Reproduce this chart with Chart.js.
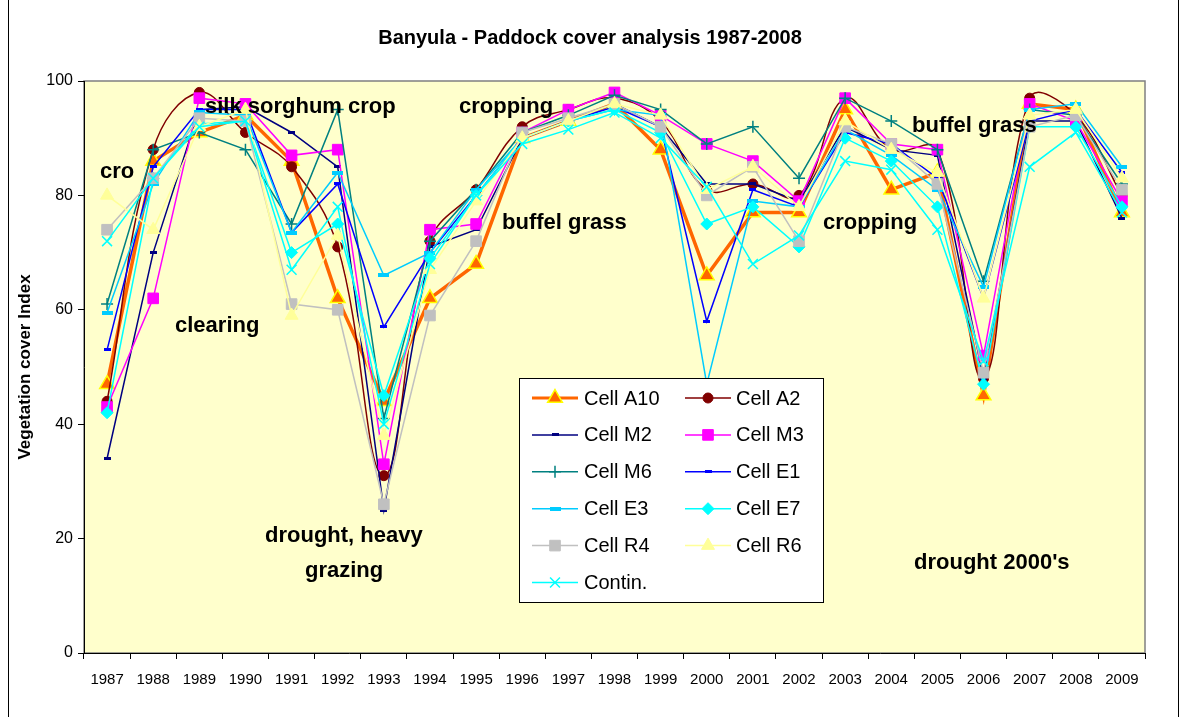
<!DOCTYPE html>
<html><head><meta charset="utf-8">
<script src="https://cdn.jsdelivr.net/npm/chart.js@4.4.0/dist/chart.umd.min.js"></script>
<style>html,body{margin:0;padding:0;background:#fff;}#wrap{position:relative;width:1181px;height:717px;}canvas{display:block;}</style>
</head><body><div id="wrap"><canvas id="c" width="1181" height="717"></canvas></div>
<script>
const years = ['1987','1988','1989','1990','1991','1992','1993','1994','1995','1996','1997','1998','1999','2000','2001','2002','2003','2004','2005','2006','2007','2008','2009'];
const yTicks = [0, 20, 40, 60, 80, 100];
const seriesNames = ['Cell A10','Cell A2','Cell M2','Cell M3','Cell M6','Cell E1','Cell E3','Cell E7','Cell R4','Cell R6','Contin.'];
const cellA10 = [47, 86, 91, 94, 86, 62, 44, 62, 68, 90, 93, 96, 88, 66, 77, 77, 95, 81, 84, 45, 96, 95, 77];
const cellA2  = [44, 88, 98, 91, 85, 71, 31, 72, 81, 92, 95, 97, 93, 81, 82, 80, 97, 88, 88, 48, 97, 94, 80];
const cellM2  = [34, 70, 95, 95.5, 91, 85, 25, 71, 74, 90, 93, 96, 92, 82, 82, 79, 92, 88, 87, 48, 93, 93, 76];
const cellM3  = [43, 62, 97, 96, 87, 88, 33, 74, 75, 91, 95, 98, 94, 89, 86, 79, 97, 89, 88, 52, 96, 93, 79];
const cellM6  = [61, 88, 91, 88, 75, 95, 41, 72, 81, 91, 94, 97.5, 95, 89, 92, 83, 97, 93, 88, 65, 95, 94, 82];
const cellE1  = [53, 85, 95, 95, 73.5, 82, 57, 70, 80, 90, 93, 95.5, 92, 58, 81, 78, 91, 89, 83, 62, 93, 95, 84];
const cellE3  = [59.5, 82, 94.5, 94, 73.5, 84, 66, 70, 81, 90, 93, 95, 94, 47, 79, 78, 91.5, 87, 81, 64, 95, 96, 85];
const cellE7  = [42, 83, 92.5, 93, 70, 75, 45, 69, 80, 90, 93, 95, 91, 75, 78, 71, 90, 86, 78, 47, 92, 92, 78];
const cellR4  = [74, 83, 93.5, 93, 61, 60, 26, 59, 72, 91, 93.5, 96, 92, 80, 85, 72, 92, 89, 82, 49, 92, 94, 81];
const cellR6  = [80, 74, 92, 95, 59, 73, 38, 67, 79, 90, 93, 96, 94, 81, 85, 78, 93, 88, 84, 62, 94, 95, 83];
const contin  = [72, 83, 92, 93, 67, 78, 40, 68, 80, 89, 91.5, 94.5, 90, 81.5, 68, 73, 86, 84.5, 74, 51, 85, 91, 77];
const chartTitle = 'Banyula - Paddock cover analysis 1987-2008';
const yTitle = 'Vegetation cover Index';
const noteTexts = ['silk sorghum crop','cro','clearing','cropping','buffel grass','drought, heavy','grazing','cropping','buffel grass',"drought 2000's"];

// ---- presentation ----
const notePos = [[205,107],[100,172],[175,326],[459,107],[502,223],[265,536],[305,571],[823,223],[912,126],[914,563]];
function dash(color, w, h){const c=document.createElement('canvas');c.width=w;c.height=h;const x=c.getContext('2d');x.fillStyle=color;x.fillRect(0,0,w,h);return c;}
const styles = [
  {color:'#FF6600', width:3.5, ps:'triangle', r:8.5, fill:'#FF6600', stroke:'#FFFF00', bw:1.5},
  {color:'#800000', width:1.5, ps:'circle', r:5, fill:'#800000', stroke:'#800000', bw:1, tension:0.4},
  {color:'#000080', width:1.5, ps:dash('#000080',7,3), r:4},
  {color:'#FF00FF', width:1.5, ps:'rect', r:7.5, fill:'#FF00FF', stroke:'#FF00FF', bw:1},
  {color:'#008080', width:1.5, ps:'cross', r:6, fill:'#008080', stroke:'#008080', bw:1.5},
  {color:'#0000FF', width:1.5, ps:dash('#0000FF',7,3), r:4},
  {color:'#00CCFF', width:1.5, ps:dash('#00CCFF',11,4), r:4},
  {color:'#00FFFF', width:1.5, ps:'rectRot', r:6, fill:'#00FFFF', stroke:'#00FFFF', bw:1},
  {color:'#C0C0C0', width:1.5, ps:'rect', r:7.5, fill:'#C0C0C0', stroke:'#C0C0C0', bw:1},
  {color:'#FFFF99', width:1.5, ps:'triangle', r:7.5, fill:'#FFFF99', stroke:'#FFFF99', bw:1},
  {color:'#00FFFF', width:1.5, ps:'crossRot', r:7, fill:'#00FFFF', stroke:'#00FFFF', bw:1.5}
];
const allData = [cellA10, cellA2, cellM2, cellM3, cellM6, cellE1, cellE3, cellE7, cellR4, cellR6, contin];
const datasets = allData.map((d,i)=>{const s=styles[i];return {
  label: seriesNames[i], data: d, borderColor: s.color, backgroundColor: s.color, borderWidth: s.width,
  pointStyle: s.ps, pointRadius: s.r, pointHoverRadius: s.r,
  pointBackgroundColor: s.fill||s.color, pointBorderColor: s.stroke||s.color, pointBorderWidth: s.bw||1,
  tension: s.tension||0, order: allData.length - i, clip: false
};});

const FONT = 'Arial, "Liberation Sans", sans-serif';
const deco = {
  id:'deco',
  beforeDraw(chart){
    const {ctx, chartArea:a} = chart;
    ctx.save();
    ctx.fillStyle='#FFFFCC'; ctx.fillRect(a.left,a.top,a.right-a.left,a.bottom-a.top);
    ctx.strokeStyle='#808080'; ctx.lineWidth=1.5; ctx.strokeRect(a.left,a.top,a.right-a.left,a.bottom-a.top);
    ctx.fillStyle='#000'; ctx.font='bold 20px '+FONT; ctx.textAlign='center'; ctx.textBaseline='middle';
    ctx.fillText(chartTitle, 590, 38);
    ctx.strokeStyle='#000'; ctx.lineWidth=1; ctx.strokeRect(8.5,-2,1170,722);
    ctx.restore();
  },
  afterDatasetsDraw(chart){
    const ctx=chart.ctx; ctx.save();
    ctx.fillStyle='#000'; ctx.font='bold 22px '+FONT; ctx.textAlign='left'; ctx.textBaseline='middle';
    noteTexts.forEach((t,i)=>{
      const [x,y]=notePos[i];
      if (t==='cro'){ctx.save();ctx.beginPath();ctx.rect(x-2,y-20,80,27);ctx.clip();ctx.fillText(t,x,y);ctx.restore();}
      else ctx.fillText(t,x,y);
    });
    // legend
    const L={left:519.5,top:378.5,w:304,h:224,row0:398,rowH:36.9,cols:[[532,578,584],[685,731,736]]};
    ctx.fillStyle='#fff'; ctx.fillRect(L.left,L.top,L.w,L.h);
    ctx.strokeStyle='#000'; ctx.lineWidth=1; ctx.strokeRect(L.left,L.top,L.w,L.h);
    seriesNames.forEach((n,i)=>{
      const s=styles[i]; const c=L.cols[i%2]; const y=L.row0+Math.floor(i/2)*L.rowH;
      ctx.strokeStyle=s.color; ctx.lineWidth=Math.min(s.width,3); ctx.beginPath(); ctx.moveTo(c[0],y); ctx.lineTo(c[1],y); ctx.stroke();
      ctx.fillStyle=s.fill||s.color; ctx.strokeStyle=s.stroke||s.color; ctx.lineWidth=s.bw||1;
      Chart.helpers.drawPoint(ctx,{pointStyle:s.ps,radius:s.r,rotation:0,borderWidth:s.bw||1},(c[0]+c[1])/2,y);
      ctx.fillStyle='#000'; ctx.font='20px '+FONT; ctx.textAlign='left'; ctx.textBaseline='middle';
      ctx.fillText(n,c[2],y+1);
    });
    ctx.restore();
  }
};

new Chart(document.getElementById('c'),{
  type:'line',
  data:{labels:years, datasets},
  options:{
    responsive:false, animation:false, devicePixelRatio:1,
    layout:{padding:{top:81,right:36,left:0,bottom:0}},
    plugins:{legend:{display:false},tooltip:{enabled:false},title:{display:false}},
    scales:{
      x:{offset:true, grid:{offset:true, drawOnChartArea:false, drawTicks:true, tickLength:6, color:'#000'},
         border:{display:true,color:'#000',width:1},
         ticks:{color:'#000', font:{family:FONT,size:15}, padding:12, maxRotation:0, autoSkip:false},
         afterFit(s){s.height=64;}},
      y:{min:0,max:100, grid:{drawOnChartArea:false, drawTicks:true, tickLength:6, color:'#000'},
         border:{display:true,color:'#000',width:1},
         ticks:{color:'#000', font:{family:FONT,size:16}, padding:5, stepSize:20, callback:(v)=>yTicks.includes(v)?String(v):''},
         title:{display:true,text:yTitle,color:'#000',font:{family:FONT,size:17,weight:'bold'},padding:{top:15}},
         afterFit(s){s.width=84;}}
    }
  },
  plugins:[deco]
});
</script></body></html>
